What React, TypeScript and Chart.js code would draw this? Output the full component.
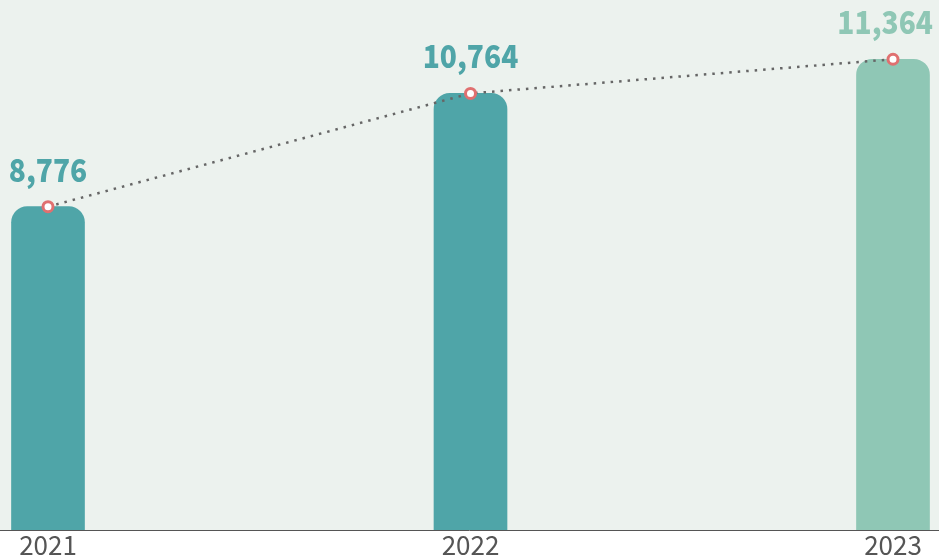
import React, { useEffect, useRef } from "react";
import { Chart, registerables } from "chart.js";

Chart.register(...registerables);

const categories = ["2021", "2022", "2023"];
const values = [8776, 10764, 11364];
const valueLabels = ["8,776", "10,764", "11,364"];
const barColors = ["#4FA5A8", "#4FA5A8", "#8FC7B5"];

const FONT = "'Noto Sans CJK KR', 'Noto Sans', sans-serif";

const bgPlugin = {
  id: "bgPlugin",
  beforeDraw(chart: any) {
    const { ctx, chartArea, width } = chart;
    ctx.save();
    ctx.fillStyle = "#FFFFFF";
    ctx.fillRect(0, 0, width, chart.height);
    ctx.fillStyle = "#ECF2EE";
    ctx.fillRect(0, 0, width, chartArea.bottom);
    ctx.restore();
  },
  afterDatasetsDraw(chart: any) {
    const { ctx, chartArea, width } = chart;
    ctx.save();
    ctx.strokeStyle = "#555555";
    ctx.lineWidth = 1;
    ctx.beginPath();
    const y = Math.round(chartArea.bottom) + 0.5;
    ctx.moveTo(0, y);
    ctx.lineTo(width, y);
    ctx.stroke();
    ctx.restore();
  },
};

const labelPlugin = {
  id: "labelPlugin",
  afterDatasetsDraw(chart: any) {
    const { ctx, width } = chart;
    const meta = chart.getDatasetMeta(1);
    ctx.save();
    ctx.font = `900 32px ${FONT}`;
    ctx.textAlign = "center";
    ctx.textBaseline = "alphabetic";
    meta.data.forEach((el: any, i: number) => {
      const sx = 0.88;
      const w = ctx.measureText(valueLabels[i]).width * sx;
      let cx = el.x;
      if (cx + w / 2 > width - 6) cx = width - 6 - w / 2;
      ctx.save();
      ctx.translate(cx, el.y - 25);
      ctx.scale(sx, 1);
      ctx.fillStyle = barColors[i];
      ctx.fillText(valueLabels[i], 0, 0);
      ctx.restore();
    });
    ctx.restore();
  },
};

export default function App() {
  const ref = useRef<HTMLCanvasElement>(null);
  useEffect(() => {
    document.body.style.margin = "0";
    const chart = new Chart(ref.current!, {
      type: "bar",
      data: {
        labels: categories,
        datasets: [
          {
            type: "line",
            data: values,
            borderColor: "#666666",
            borderWidth: 2.5,
            borderDash: [2.5, 6],
            pointRadius: 5,
            pointBorderWidth: 3,
            pointBorderColor: "#E07070",
            pointBackgroundColor: "#FFFFFF",
            fill: false,
            order: 0,
            clip: false,
          } as any,
          {
            type: "bar",
            data: values,
            backgroundColor: barColors,
            barThickness: 73,
            borderRadius: { topLeft: 16, topRight: 16, bottomLeft: 0, bottomRight: 0 },
            borderSkipped: false,
            order: 1,
            clip: { left: 100, right: 100, top: 100, bottom: 0 },
          } as any,
        ],
      },
      options: {
        responsive: false,
        animation: false,
        layout: { padding: { left: 48, right: 46, top: 23, bottom: 0 } },
        plugins: { legend: { display: false }, tooltip: { enabled: false } },
        scales: {
          x: {
            offset: false,
            grid: { display: false, drawTicks: false },
            border: { display: false },
            ticks: {
              color: "#555555",
              font: { family: FONT, size: 26, lineHeight: 1.0 },
              padding: 2,
            },
          },
          y: {
            display: false,
            min: 3100,
            max: 12000,
          },
        },
      },
      plugins: [bgPlugin, labelPlugin],
    });
    return () => chart.destroy();
  }, []);
  return (
    <div style={{ width: 939, height: 560 }}>
      <canvas ref={ref} width={939} height={560} />
    </div>
  );
}
